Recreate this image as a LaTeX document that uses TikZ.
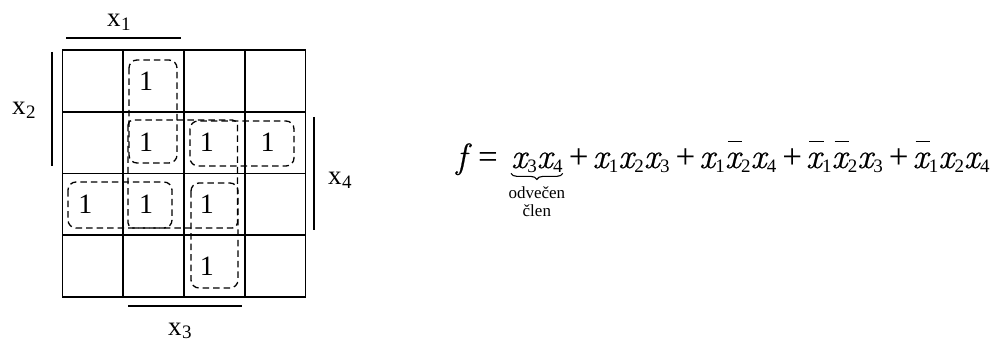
\documentclass[tikz,border=0pt]{standalone}
\usepackage{fontspec}
\setmainfont{Liberation Serif}
\newfontfamily\lmr{Latin Modern Roman}[ItalicFeatures={FakeBold=0.6}]
\usetikzlibrary{decorations.pathreplacing}
\newcommand{\ix}{{\lmr\itshape x}}
\newcommand{\sv}[1]{\ix\kern0.4pt\raisebox{-4pt}{\fontsize{19}{19}\selectfont #1}}
\newcommand{\nsv}[1]{\rlap{\kern3pt\rule[26pt]{14.5pt}{1.3pt}}\sv{#1}}
\newcommand{\pl}{\kern6pt+\kern4pt}
\newcommand{\lab}[1]{x\kern0.5pt\raisebox{-3.5pt}{\fontsize{19}{19}\selectfont #1}}
\begin{document}
\begin{tikzpicture}[x=1pt,y=-1pt,
  gridline/.style={line width=1.8pt, line cap=rect},
  barline/.style={line width=1.4pt},
  loopline/.style={line width=1.3pt, dash pattern=on 6.5pt off 4pt, rounded corners=8pt},
  one/.style={inner sep=0pt, font=\fontsize{28}{30}\selectfont},
  labtxt/.style={inner sep=0pt, font=\fontsize{27}{30}\selectfont, anchor=base west},
  fm/.style={inner sep=0pt, font=\fontsize{35}{38}\selectfont, anchor=base west},
  note/.style={inner sep=0pt, font=\fontsize{17}{18}\selectfont, align=center}]
\fill[white] (0,0) rectangle (996,342);
\useasboundingbox (0,0) rectangle (996,342);
% grid
\foreach \i in {0,...,4} {
  \draw[gridline] ({62.5+60.75*\i},50) -- ({62.5+60.75*\i},297);
  \draw[gridline] (62.5,{50+61.75*\i}) -- (305.5,{50+61.75*\i});
}
% ones
\foreach \r/\c [count=\k] in {1/2,2/2,2/3,2/4,3/1,3/2,3/3,4/3}
  \node[one] (o\k) at ({62.5+60.75*(\c-0.5)-7.5},{50+61.75*(\r-0.5)}) {1};
% loops
\draw[loopline] (129,60) rectangle (177,163);
\draw[loopline] (190,121) rectangle (294,166);
\draw[loopline] (68,182) rectangle (172,228);
\draw[loopline] (191,183) rectangle (238,288);
\draw[loopline, rounded corners=5pt] (128,120) rectangle (237.5,228);
% variable bars
\coordinate (b1a) at (66,38);  \coordinate (b1b) at (181,38);
\coordinate (b2a) at (52,52);  \coordinate (b2b) at (52,166);
\coordinate (b4a) at (314,117); \coordinate (b4b) at (314,230);
\coordinate (b3a) at (128,306); \coordinate (b3b) at (242,306);
\draw[barline] (b1a) -- (b1b);
\draw[barline] (b2a) -- (b2b);
\draw[barline] (b4a) -- (b4b);
\draw[barline] (b3a) -- (b3b);
\node[labtxt] (lx1) at (107,27) {\lab{1}};
\node[labtxt] (lx2) at (12,115) {\lab{2}};
\node[labtxt] (lx4) at (328,185) {\lab{4}};
\node[labtxt] (lx3) at (168,335) {\lab{3}};
% formula
\node[fm] (fa) at (456,168) {\lmr\itshape f};
\node[fm] (fe) at (478,168) {=};
\node[fm] (fb) at (511,168) {\sv{3}\sv{4}};
\node[fm] (fc) at (fb.base east) {\pl\sv{1}\sv{2}\sv{3}\pl\sv{1}\nsv{2}\sv{4}\pl\nsv{1}\nsv{2}\sv{3}\pl\nsv{1}\sv{2}\sv{4}};
\draw[line width=1.1pt, decorate, decoration={brace, mirror, amplitude=6pt}]
  ([yshift=-1pt]fb.south west) -- ([yshift=-1pt]fb.south east);
\node[note, anchor=north] (nt) at ([yshift=-14pt]fb.south) {odvečen\\člen};
\end{tikzpicture}
\end{document}
